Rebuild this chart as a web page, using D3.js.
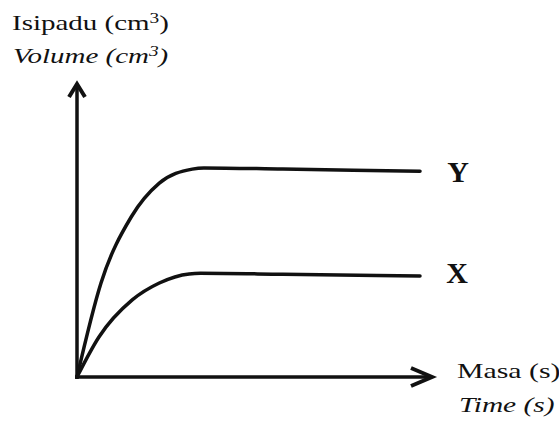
<!DOCTYPE html>
<html>
<head>
<meta charset="utf-8">
<script src="https://cdn.jsdelivr.net/npm/d3@7"></script>
<style>
  body { margin: 0; background: #fff; }
  svg { display: block; }
  text { font-family: "Liberation Serif", "Times New Roman", Tinos, serif; fill: #111; }
</style>
</head>
<body>
<svg id="chart" width="559" height="423"></svg>
<script>
// curve Y (upper) and curve X (lower), sketch values
const timeY   = [0, 0.70, 1.58, 2.40, 3.36, 3.70, 6.0, 10];
const volumeY = [0, 3.22, 5.48, 6.64, 7.12, 7.16, 7.12, 7.05];
const timeX   = [0, 0.64, 1.61, 2.40, 3.27, 3.60, 6.0, 10];
const volumeX = [0, 1.37, 2.64, 3.22, 3.53, 3.55, 3.52, 3.46];
const seriesNames = ["Y", "X"];
const yTitle = ["Isipadu (cm", "Volume (cm"];
const xTitle = ["Masa (s)", "Time (s)"];

let chart = d3.select("#chart");

// scales
let x = d3.scaleLinear().domain([0, 10]).range([77, 420]);
let y = d3.scaleLinear().domain([0, 10]).range([377, 85]);

// axes (just lines with arrows)
chart.append("line")
    .attr("x1", x(0)).attr("y1", y(0) + 2)
    .attr("x2", x(0)).attr("y2", y(10) - 1)
    .attr("stroke", "#111").attr("stroke-width", 3.5);
chart.append("line")
    .attr("x1", x(0) - 2).attr("y1", y(0))
    .attr("x2", x(10) + 12).attr("y2", y(0))
    .attr("stroke", "#111").attr("stroke-width", 3.5);

// arrow heads
chart.append("path")
    .attr("d", `M${x(0) - 8},${y(10) + 12} L${x(0)},${y(10) - 1} L${x(0) + 8},${y(10) + 12}`)
    .attr("fill", "none").attr("stroke", "#111")
    .attr("stroke-width", 4).attr("stroke-linejoin", "miter");
chart.append("path")
    .attr("d", `M${x(10) - 9},${y(0) - 9} L${x(10) + 12},${y(0)} L${x(10) - 9},${y(0) + 9}`)
    .attr("fill", "none").attr("stroke", "#111")
    .attr("stroke-width", 4).attr("stroke-linejoin", "miter");

// curves
let line = d3.line()
    .x(d => x(d[0]))
    .y(d => y(d[1]))
    .curve(d3.curveMonotoneX);

let dataY = timeY.map((t, i) => [t, volumeY[i]]);
let dataX = timeX.map((t, i) => [t, volumeX[i]]);

chart.append("path")
    .datum(dataY)
    .attr("fill", "none").attr("stroke", "#111")
    .attr("stroke-width", 3.5).attr("stroke-linecap", "round")
    .attr("d", line);
chart.append("path")
    .datum(dataX)
    .attr("fill", "none").attr("stroke", "#111")
    .attr("stroke-width", 3.5).attr("stroke-linecap", "round")
    .attr("d", line);

// series labels
chart.append("text")
    .text(seriesNames[0])
    .attr("x", 458).attr("y", 182)
    .attr("text-anchor", "middle")
    .style("font-size", "30px").style("font-weight", "bold");
chart.append("text")
    .text(seriesNames[1])
    .attr("x", 457).attr("y", 283)
    .attr("text-anchor", "middle")
    .style("font-size", "30px").style("font-weight", "bold");

// y axis title (picture is stretched sideways, so scale text in x)
let t1 = chart.append("text")
    .attr("transform", "translate(12,30) scale(1.38,1)")
    .style("font-size", "21px");
t1.append("tspan").text(yTitle[0]);
t1.append("tspan").text("3").attr("dy", -7).style("font-size", "14px");
t1.append("tspan").text(")").attr("dy", 7);

let t2 = chart.append("text")
    .attr("transform", "translate(13,63) scale(1.38,1)")
    .style("font-size", "21px").style("font-style", "italic");
t2.append("tspan").text(yTitle[1]);
t2.append("tspan").text("3").attr("dy", -7).style("font-size", "14px");
t2.append("tspan").text(")").attr("dy", 7);

// x axis title
chart.append("text")
    .text(xTitle[0])
    .attr("transform", "translate(457,378) scale(1.42,1)")
    .style("font-size", "21px");
chart.append("text")
    .text(xTitle[1])
    .attr("transform", "translate(459,412) scale(1.4,1)")
    .style("font-size", "21px").style("font-style", "italic");
</script>
</body>
</html>
